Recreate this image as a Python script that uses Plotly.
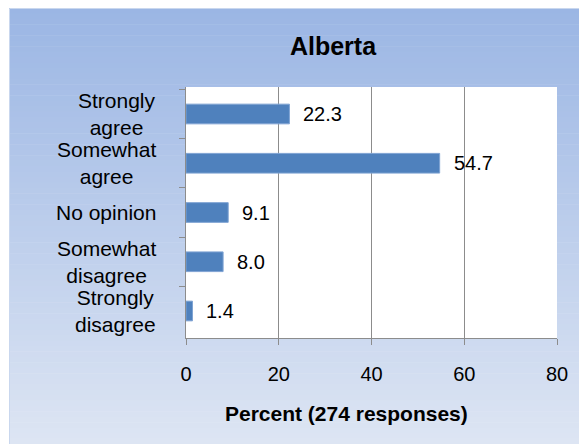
import plotly.graph_objects as go

categories = ["Strongly agree", "Somewhat agree", "No opinion",
              "Somewhat disagree", "Strongly disagree"]
tick_text = ["Strongly<br>agree", "Somewhat<br>agree", "No opinion",
             "Somewhat<br>disagree", "Strongly<br>disagree"]
percent = [22.3, 54.7, 9.1, 8.0, 1.4]
x_ticks = [0, 20, 40, 60, 80]

W, H = 579, 444
L, R, T, B = 186, 22, 87, 106
pw, ph = W - L - R, H - T - B

font = "Liberation Sans, Arial, sans-serif"

fig = go.Figure()
fig.add_trace(go.Bar(
    x=percent, y=categories, orientation="h",
    marker=dict(color="#4F81BD", line=dict(color="#7FA3D3", width=1)),
    hoverinfo="skip",
))

# gradient background box (paper coords extend past the plot area)
def px2x(px):
    return (px - L) / pw

def py2y(py):
    return (H - B - py) / ph

top = (155, 182, 228)
bot = (221, 229, 243)
box_top, box_bot = 8, H
n = 80
shapes = []
for i in range(n):
    t = i / (n - 1)
    c = tuple(round(top[k] + (bot[k] - top[k]) * t) for k in range(3))
    y0 = box_top + (box_bot - box_top) * i / n
    y1 = box_top + (box_bot - box_top) * (i + 1) / n
    shapes.append(dict(type="rect", xref="paper", yref="paper",
                       x0=px2x(9), x1=px2x(W + 2), y0=py2y(y1 + 0.5), y1=py2y(y0),
                       fillcolor="rgb(%d,%d,%d)" % c, line=dict(width=0), layer="below"))
# light edge of the box
shapes.append(dict(type="rect", xref="paper", yref="paper",
                   x0=px2x(9.5), x1=px2x(W + 2), y0=py2y(H + 2), y1=py2y(8.5),
                   fillcolor="rgba(0,0,0,0)", line=dict(color="#C9D7EE", width=1),
                   layer="below"))
# white plot area
shapes.append(dict(type="rect", xref="paper", yref="paper", x0=0, x1=1, y0=0, y1=1,
                   fillcolor="white", line=dict(width=0), layer="below"))

annotations = []
for lab, cat in zip(tick_text, categories):
    annotations.append(dict(x=0, xref="paper", y=cat, yref="y", text=lab,
                            showarrow=False, xanchor="right", align="center",
                            xshift=-28, font=dict(family=font, size=21, color="black")))
for v, cat in zip(percent, categories):
    annotations.append(dict(x=v, xref="x", y=cat, yref="y", text="%.1f" % v,
                            showarrow=False, xanchor="left", xshift=12,
                            font=dict(family=font, size=20, color="black")))
annotations.append(dict(x=px2x(346), xref="paper", y=py2y(413), yref="paper",
                        yanchor="middle", text="<b>Percent (274 responses)</b>",
                        showarrow=False, font=dict(family=font, size=21, color="black")))

fig.update_layout(
    width=W, height=H,
    margin=dict(l=L, r=R, t=T, b=B),
    paper_bgcolor="white",
    plot_bgcolor="rgba(0,0,0,0)",
    showlegend=False,
    bargap=0.6,
    title=dict(text="<b>Alberta</b>", x=333 / W, xanchor="center",
               y=1 - 46 / H, yanchor="middle",
               font=dict(family=font, size=25, color="black")),
    xaxis=dict(range=[0, 80], tickvals=x_ticks, showgrid=True, gridcolor="#8C8C8C",
               gridwidth=1, showline=True, linecolor="#8C8C8C", linewidth=1,
               ticks="outside", ticklen=6, tickcolor="#8C8C8C", ticklabelstandoff=12,
               tickfont=dict(family=font, size=20, color="black"),
               zeroline=False, fixedrange=True),
    yaxis=dict(categoryorder="array", categoryarray=categories, autorange="reversed",
               showticklabels=False, showline=True, linecolor="#8C8C8C", linewidth=1,
               ticks="outside", ticklen=6, tickcolor="#8C8C8C", tickson="boundaries",
               showgrid=False, zeroline=False, fixedrange=True),
    shapes=shapes,
    annotations=annotations,
)

fig.write_html("out.html", config={"displayModeBar": False},
               post_script="document.body.style.margin='0';document.body.style.overflow='hidden';")
